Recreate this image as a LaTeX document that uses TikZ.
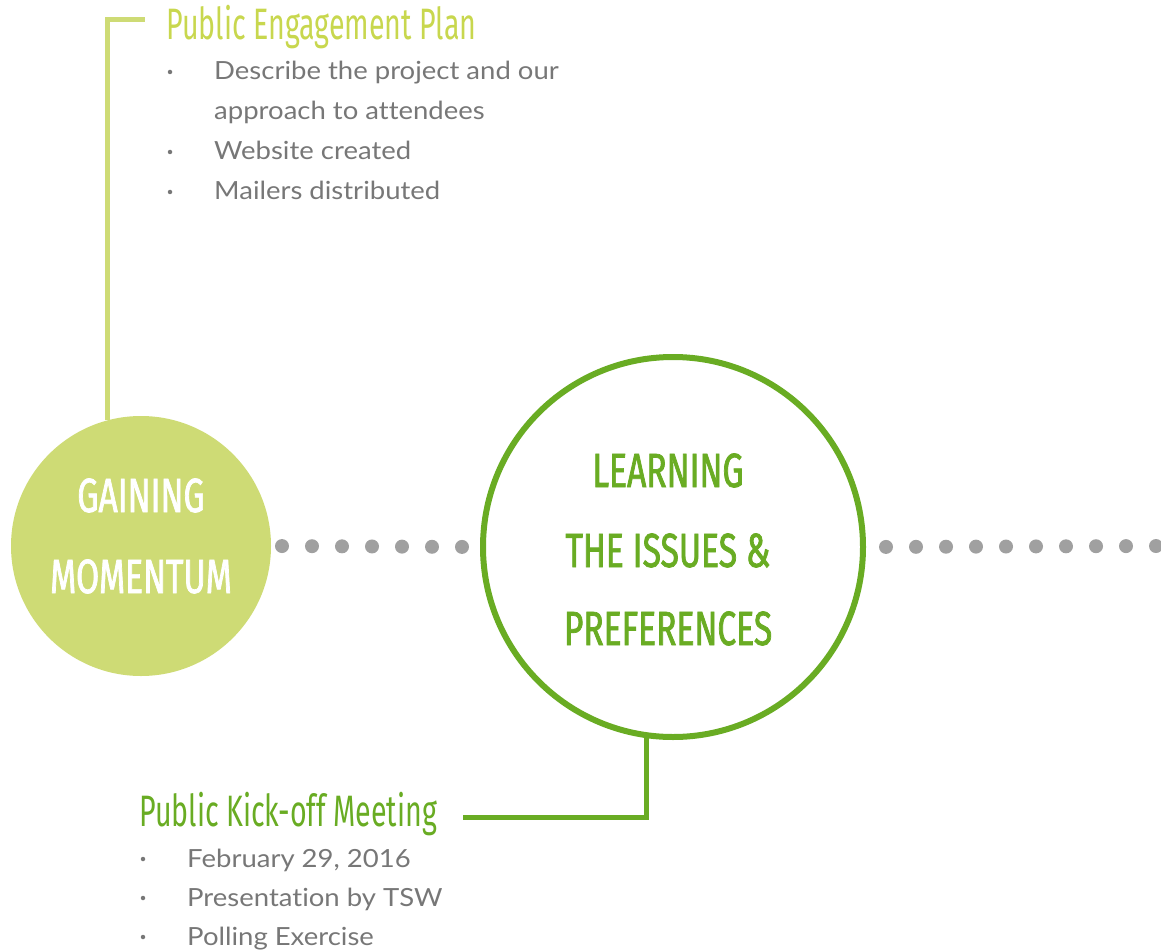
\documentclass[tikz,border=0pt]{standalone}
\usepackage{fontspec}
\setmainfont[FakeStretch=1.1, Ligatures=NoCommon]{Lato}
\newfontfamily\headfont[FakeStretch=0.65]{Fira Sans}
\newfontfamily\circfont[FakeStretch=0.7, FakeBold=1.5]{Fira Sans}
\definecolor{lightgreen}{HTML}{CEDB75}
\definecolor{headlight}{HTML}{C8D74E}
\definecolor{darkgreen}{HTML}{69AC23}
\definecolor{dotgray}{HTML}{A0A0A0}
\definecolor{bodygray}{HTML}{777777}
\tikzset{
  head/.style={font=\headfont\fontsize{44}{50}\selectfont, inner sep=0pt, anchor=base west},
  circtext/.style={font=\circfont\fontsize{48}{54}\selectfont, inner sep=0pt, anchor=base},
  body/.style={font=\fontsize{25}{30}\selectfont, text=bodygray, inner sep=0pt, anchor=base west},
  bul/.style={circle, fill=bodygray, inner sep=0pt, minimum size=4.5pt},
  dotline/.style={draw=dotgray, line width=14pt, line cap=round, dash pattern=on 0pt off 30pt},
  connector/.style={line width=5pt}
}
\begin{document}
\begin{tikzpicture}[x=1pt,y=-1pt]
\useasboundingbox (0,0) rectangle (1161,952);
% circles
\node[circle, fill=lightgreen, minimum size=260pt, inner sep=0pt, outer sep=0pt] (gm) at (141,546) {};
\node[circle, draw=darkgreen, line width=6pt, minimum size=380pt, inner sep=0pt, fill=white] (lip) at (673,547) {};
% circle texts
\node[circtext, text=white] (gm1) at (141,512) {GAINING};
\node[circtext, text=white] (gm2) at (141,593) {MOMENTUM};
\node[circtext, text=darkgreen] (lip1) at (668,487) {LEARNING};
\node[circtext, text=darkgreen] (lip2) at (668,567) {THE ISSUES \&};
\node[circtext, text=darkgreen] (lip3) at (668,645) {PREFERENCES};
% dotted connectors
\coordinate (rightend) at (1161,546);
\draw[dotline, dash phase=19pt] (gm.east) -- (lip.west);
\draw[dotline, dash phase=10pt] (lip.east) -- (rightend);
% top callout
\coordinate (pepend) at (145,20);
\draw[connector, draw=lightgreen] (gm.105) |- (pepend);
\node[head, text=headlight] (pepT) at (166,40) {Public Engagement Plan};
\node[bul] (pb1) at (170,72) {};
\node[body] (pep1) at (214,80) {Describe the project and our};
\node[body] (pep1b) at (214,120) {approach to attendees};
\node[bul] (pb2) at (170,152) {};
\node[body] (pep2) at (214,160) {Website created};
\node[bul] (pb3) at (170,192) {};
\node[body] (pep3) at (214,200) {Mailers distributed};
% bottom callout
\coordinate (kickend) at (463,817);
\draw[connector, draw=darkgreen] (lip.262) |- (kickend);
\node[head, text=darkgreen] (kickT) at (139,826) {Public Kick-off Meeting};
\node[bul] (kb1) at (143,859) {};
\node[body] (kick1) at (187,867) {February 29, 2016};
\node[bul] (kb2) at (143,898) {};
\node[body] (kick2) at (187,906) {Presentation by TSW};
\node[bul] (kb3) at (143,937) {};
\node[body] (kick3) at (187,945) {Polling Exercise};
\end{tikzpicture}
\end{document}
